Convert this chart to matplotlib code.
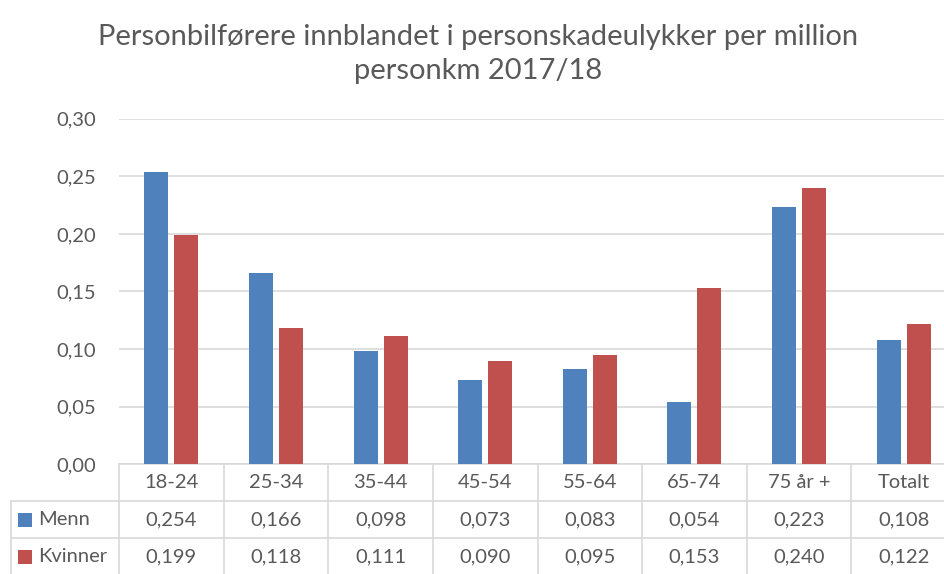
import matplotlib
matplotlib.use('Agg')
import matplotlib.pyplot as plt
from matplotlib.patches import Rectangle
from matplotlib.ticker import FuncFormatter, MultipleLocator
import numpy as np

# data
categories = ['18-24', '25-34', '35-44', '45-54', '55-64', '65-74', '75 år +', 'Totalt']
menn = [0.254, 0.166, 0.098, 0.073, 0.083, 0.054, 0.223, 0.108]
kvinner = [0.199, 0.118, 0.111, 0.090, 0.095, 0.153, 0.240, 0.122]
series_names = ['Menn', 'Kvinner']
title = 'Personbilførere innblandet i personskadeulykker per million\npersonkm 2017/18'

blue = '#4F81BD'
red = '#C0504D'
txt = '#595959'
gridc = '#D9D9D9'
plt.rcParams['font.family'] = ['Lato', 'DejaVu Sans']

W, H = 944, 574
fig = plt.figure(figsize=(W / 100, H / 100), dpi=100)
# plot area in pixels: left 119, right 956 (cut by image edge), top 118.7, bottom 464.3
left, right, top, bottom = 119, 956, 118.7, 464.3
ax = fig.add_axes([left / W, 1 - bottom / H, (right - left) / W, (bottom - top) / H])

x = np.arange(len(categories))
bw = 0.229
off = 0.143
ax.bar(x - off, menn, bw, color=blue, zorder=3)
ax.bar(x + off, kvinner, bw, color=red, zorder=3)

ax.set_xlim(-0.5, len(categories) - 0.5)
ax.set_ylim(0, 0.30)
ax.yaxis.set_major_locator(MultipleLocator(0.05))
ax.yaxis.set_major_formatter(FuncFormatter(lambda v, p: f'{v:.2f}'.replace('.', ',')))
ax.tick_params(axis='y', length=0, pad=16.5, labelsize=14.5, labelcolor=txt)
ax.set_xticks([])
ax.grid(axis='y', color=gridc, lw=1.2, zorder=0)
for s in ['top', 'right', 'left']:
    ax.spines[s].set_visible(False)
ax.spines['bottom'].set_color(gridc)
ax.spines['bottom'].set_linewidth(1.2)

# data table below the plot area
ph = bottom - top
row_h = 37.0 / ph
colw = 104.6
trans = ax.get_xaxis_transform()
line_kw = dict(color=gridc, lw=1.2, clip_on=False, zorder=1)
n = len(categories)
xl = -0.5 - 108 / colw
for r in (1, 2):
    ax.plot([xl, n - 0.5], [-r * row_h] * 2, transform=trans, **line_kw)
for k in range(n + 1):
    ax.plot([k - 0.5] * 2, [0, -3.3 * row_h], transform=trans, **line_kw)
ax.plot([xl] * 2, [-row_h, -3.3 * row_h], transform=trans, **line_kw)

for i, c in enumerate(categories):
    ax.text(i, -0.5 * row_h, c, transform=trans, ha='center', va='center',
            fontsize=14.5, color=txt)
for r, (name, vals, col) in enumerate(zip(series_names, [menn, kvinner], [blue, red])):
    yc = -(r + 1.5) * row_h
    for i, v in enumerate(vals):
        ax.text(i, yc, f'{v:.3f}'.replace('.', ','), transform=trans, ha='center',
                va='center', fontsize=14.5, color=txt)
    ypix = bottom + 37 * (r + 1.5)
    fig.add_artist(Rectangle((18 / W, 1 - (ypix + 7) / H), 14 / W, 14 / H,
                             transform=fig.transFigure, color=col, lw=0))
    fig.text(38 / W, 1 - ypix / H, name, color=txt, fontsize=14.5,
             va='center', ha='left')

fig.text(478 / W, 1 - 54 / H, title, ha='center', va='center', fontsize=21,
         color=txt, linespacing=1.4)

fig.savefig('out.png', dpi=100)
